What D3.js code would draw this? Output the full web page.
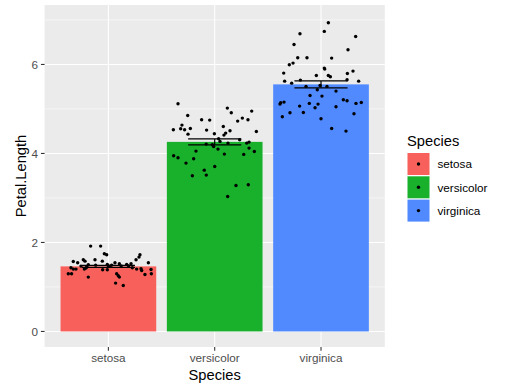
<!DOCTYPE html>
<html><head><meta charset="utf-8">
<script src="https://cdn.jsdelivr.net/npm/d3@7"></script>
<style>body{margin:0;background:#fff}svg{display:block}text{font-family:"Liberation Sans",Arial,Helvetica,sans-serif}</style>
</head><body>
<svg id="c" width="510" height="389"></svg>
<script>
const categories = ["setosa", "versicolor", "virginica"];
const colors = ["#F8615B", "#19B02C", "#518AFF"];
const means = [1.462, 4.260, 5.552];
const ses = [0.0246, 0.0665, 0.0780];
const yTicks = [0, 2, 4, 6];
const yMinor = [1, 3, 5, 7];
// jittered points: [x offset in category units, Petal.Length]
const setosaPts = [[-0.167,1.918],[-0.073,1.918],[-0.038,1.745],[-0.016,1.723],[0.297,1.723],[0.288,1.670],[0.260,1.611],[-0.126,1.611],[-0.236,1.611],[-0.220,1.580],[-0.330,1.573],[-0.289,1.543],[-0.057,1.580],[0.376,1.543],[0.103,1.521],[0.062,1.543],[0.172,1.506],[0.213,1.521],[-0.010,1.506],[0.031,1.491],[0.015,1.461],[-0.258,1.468],[-0.189,1.498],[-0.204,1.446],[-0.352,1.431],[-0.330,1.401],[-0.226,1.401],[-0.211,1.423],[-0.305,1.401],[-0.054,1.386],[-0.010,1.386],[0.225,1.431],[0.266,1.401],[0.307,1.408],[0.313,1.371],[0.401,1.393],[-0.377,1.296],[-0.346,1.296],[0.404,1.296],[0.344,1.281],[0.078,1.296],[0.093,1.251],[0.103,1.221],[-0.189,1.221],[0.068,1.086],[0.140,1.034],[0.000,1.470],[0.120,1.470],[-0.120,1.490],[0.190,1.470]];
const versicolorPts = [[-0.345,5.116],[0.119,5.019],[0.156,4.914],[0.348,4.951],[-0.254,4.854],[-0.123,4.757],[-0.047,4.749],[0.260,4.794],[0.313,4.757],[0.216,4.727],[-0.308,4.637],[-0.320,4.554],[-0.283,4.532],[-0.229,4.562],[-0.389,4.532],[0.081,4.607],[0.144,4.509],[-0.076,4.524],[-0.251,4.434],[-0.003,4.442],[0.103,4.457],[0.087,4.412],[0.392,4.494],[0.037,4.330],[0.235,4.307],[0.323,4.255],[0.301,4.232],[0.125,4.232],[-0.022,4.195],[-0.010,4.157],[0.031,4.097],[-0.176,4.052],[0.323,4.120],[0.373,4.045],[0.273,3.978],[0.091,3.985],[-0.386,3.948],[-0.345,3.903],[-0.198,3.880],[-0.270,3.783],[0.000,3.708],[-0.098,3.625],[-0.079,3.513],[-0.210,3.498],[0.200,3.281],[0.316,3.296],[0.122,3.034],[0.050,4.270],[-0.080,4.210]];
const virginicaPts = [[0.069,6.936],[0.031,6.742],[-0.198,6.689],[0.326,6.629],[-0.254,6.449],[0.254,6.330],[-0.219,6.150],[-0.132,6.150],[0.100,6.142],[-0.263,6.030],[-0.298,5.993],[0.031,5.918],[0.035,5.895],[0.301,5.850],[-0.351,5.805],[0.248,5.798],[-0.044,5.753],[0.069,5.753],[0.088,5.723],[-0.342,5.625],[-0.194,5.648],[0.245,5.656],[0.354,5.625],[-0.276,5.580],[-0.141,5.506],[-0.009,5.528],[0.056,5.506],[-0.035,5.431],[0.141,5.401],[-0.103,5.303],[0.009,5.288],[0.210,5.206],[0.245,5.184],[-0.379,5.139],[-0.348,5.154],[-0.386,5.109],[-0.110,5.124],[-0.028,5.109],[0.329,5.124],[0.379,5.146],[-0.201,5.064],[-0.056,5.026],[0.141,5.049],[-0.292,4.914],[-0.166,4.921],[0.310,4.891],[-0.364,4.824],[0.000,4.779],[0.235,4.502],[0.100,4.560]];
const pointSets = [setosaPts, versicolorPts, virginicaPts];

const svg = d3.select("#c");
const P = {l: 44.6, r: 384.8, t: 5, b: 347};
// discrete position scale: categories at 1..3, expanded by 0.6
const xc = d3.scaleLinear().domain([0.4, 3.6]).range([P.l, P.r]);
const y = d3.scaleLinear().domain([-0.3497, 7.3357]).range([P.b, P.t]);

svg.append("rect").attr("x", P.l).attr("y", P.t).attr("width", P.r - P.l).attr("height", P.b - P.t).attr("fill", "#EBEBEB");
const g = svg.append("g");
g.selectAll(".minor").data(yMinor).enter().append("line")
  .attr("x1", P.l).attr("x2", P.r).attr("y1", d => y(d)).attr("y2", d => y(d))
  .attr("stroke", "#fff").attr("stroke-width", 0.53);
g.selectAll(".major").data(yTicks).enter().append("line")
  .attr("x1", P.l).attr("x2", P.r).attr("y1", d => y(d)).attr("y2", d => y(d))
  .attr("stroke", "#fff").attr("stroke-width", 1.07);
g.selectAll(".vmajor").data(categories).enter().append("line")
  .attr("x1", (d, i) => xc(i + 1)).attr("x2", (d, i) => xc(i + 1)).attr("y1", P.t).attr("y2", P.b)
  .attr("stroke", "#fff").attr("stroke-width", 1.07);

// bars
g.selectAll(".bar").data(means).enter().append("rect")
  .attr("x", (d, i) => xc(i + 1 - 0.45)).attr("width", xc(1.45) - xc(0.55))
  .attr("y", d => y(d)).attr("height", d => y(0) - y(d))
  .attr("fill", (d, i) => colors[i]);

// points
pointSets.forEach((pts, i) => {
  g.selectAll(".p" + i).data(pts).enter().append("circle")
    .attr("cx", d => xc(i + 1 + d[0])).attr("cy", d => y(d[1])).attr("r", 1.7).attr("fill", "#000");
});

// error bars
means.forEach((m, i) => {
  const x0 = xc(i + 1 - 0.25), x1 = xc(i + 1 + 0.25), xm = xc(i + 1);
  const lo = y(m - ses[i]), hi = y(m + ses[i]);
  const e = g.append("g").attr("stroke", "#000").attr("stroke-width", 1.2);
  e.append("line").attr("x1", x0).attr("x2", x1).attr("y1", hi).attr("y2", hi);
  e.append("line").attr("x1", x0).attr("x2", x1).attr("y1", lo).attr("y2", lo);
  e.append("line").attr("x1", xm).attr("x2", xm).attr("y1", hi).attr("y2", lo);
});

// axes
const yAx = svg.append("g");
yTicks.forEach(t => {
  yAx.append("line").attr("x1", P.l - 3.67).attr("x2", P.l).attr("y1", y(t)).attr("y2", y(t)).attr("stroke", "#333").attr("stroke-width", 1.07);
  yAx.append("text").attr("x", P.l - 6.6).attr("y", y(t)).attr("dy", "0.36em").attr("text-anchor", "end")
    .attr("font-size", 11.7).attr("fill", "#4D4D4D").text(t);
});
const xAx = svg.append("g");
categories.forEach((c, i) => {
  xAx.append("line").attr("x1", xc(i + 1)).attr("x2", xc(i + 1)).attr("y1", P.b).attr("y2", P.b + 3.67).attr("stroke", "#333").attr("stroke-width", 1.07);
  xAx.append("text").attr("x", xc(i + 1)).attr("y", P.b + 6.6).attr("dy", "0.76em").attr("text-anchor", "middle")
    .attr("font-size", 11.7).attr("fill", "#4D4D4D").text(c);
});
svg.append("text").attr("x", (P.l + P.r) / 2).attr("y", 380).attr("text-anchor", "middle").attr("font-size", 14.7).attr("fill", "#000").text("Species");
svg.append("text").attr("transform", `translate(26,${(P.t + P.b) / 2}) rotate(-90)`).attr("text-anchor", "middle").attr("font-size", 14.7).attr("fill", "#000").text("Petal.Length");

// legend
const lg = svg.append("g");
lg.append("text").attr("x", 407).attr("y", 145.5).attr("font-size", 14.7).attr("fill", "#000").text("Species");
categories.forEach((c, i) => {
  const ky = 153 + i * 23.3;
  lg.append("rect").attr("x", 407.5).attr("y", ky).attr("width", 22).attr("height", 22).attr("fill", colors[i]);
  lg.append("circle").attr("cx", 418.5).attr("cy", ky + 11).attr("r", 1.7).attr("fill", "#000");
  lg.append("text").attr("x", 437.5).attr("y", ky + 11).attr("dy", "0.36em").attr("font-size", 11.7).attr("fill", "#000").text(c);
});
</script>
</body></html>
